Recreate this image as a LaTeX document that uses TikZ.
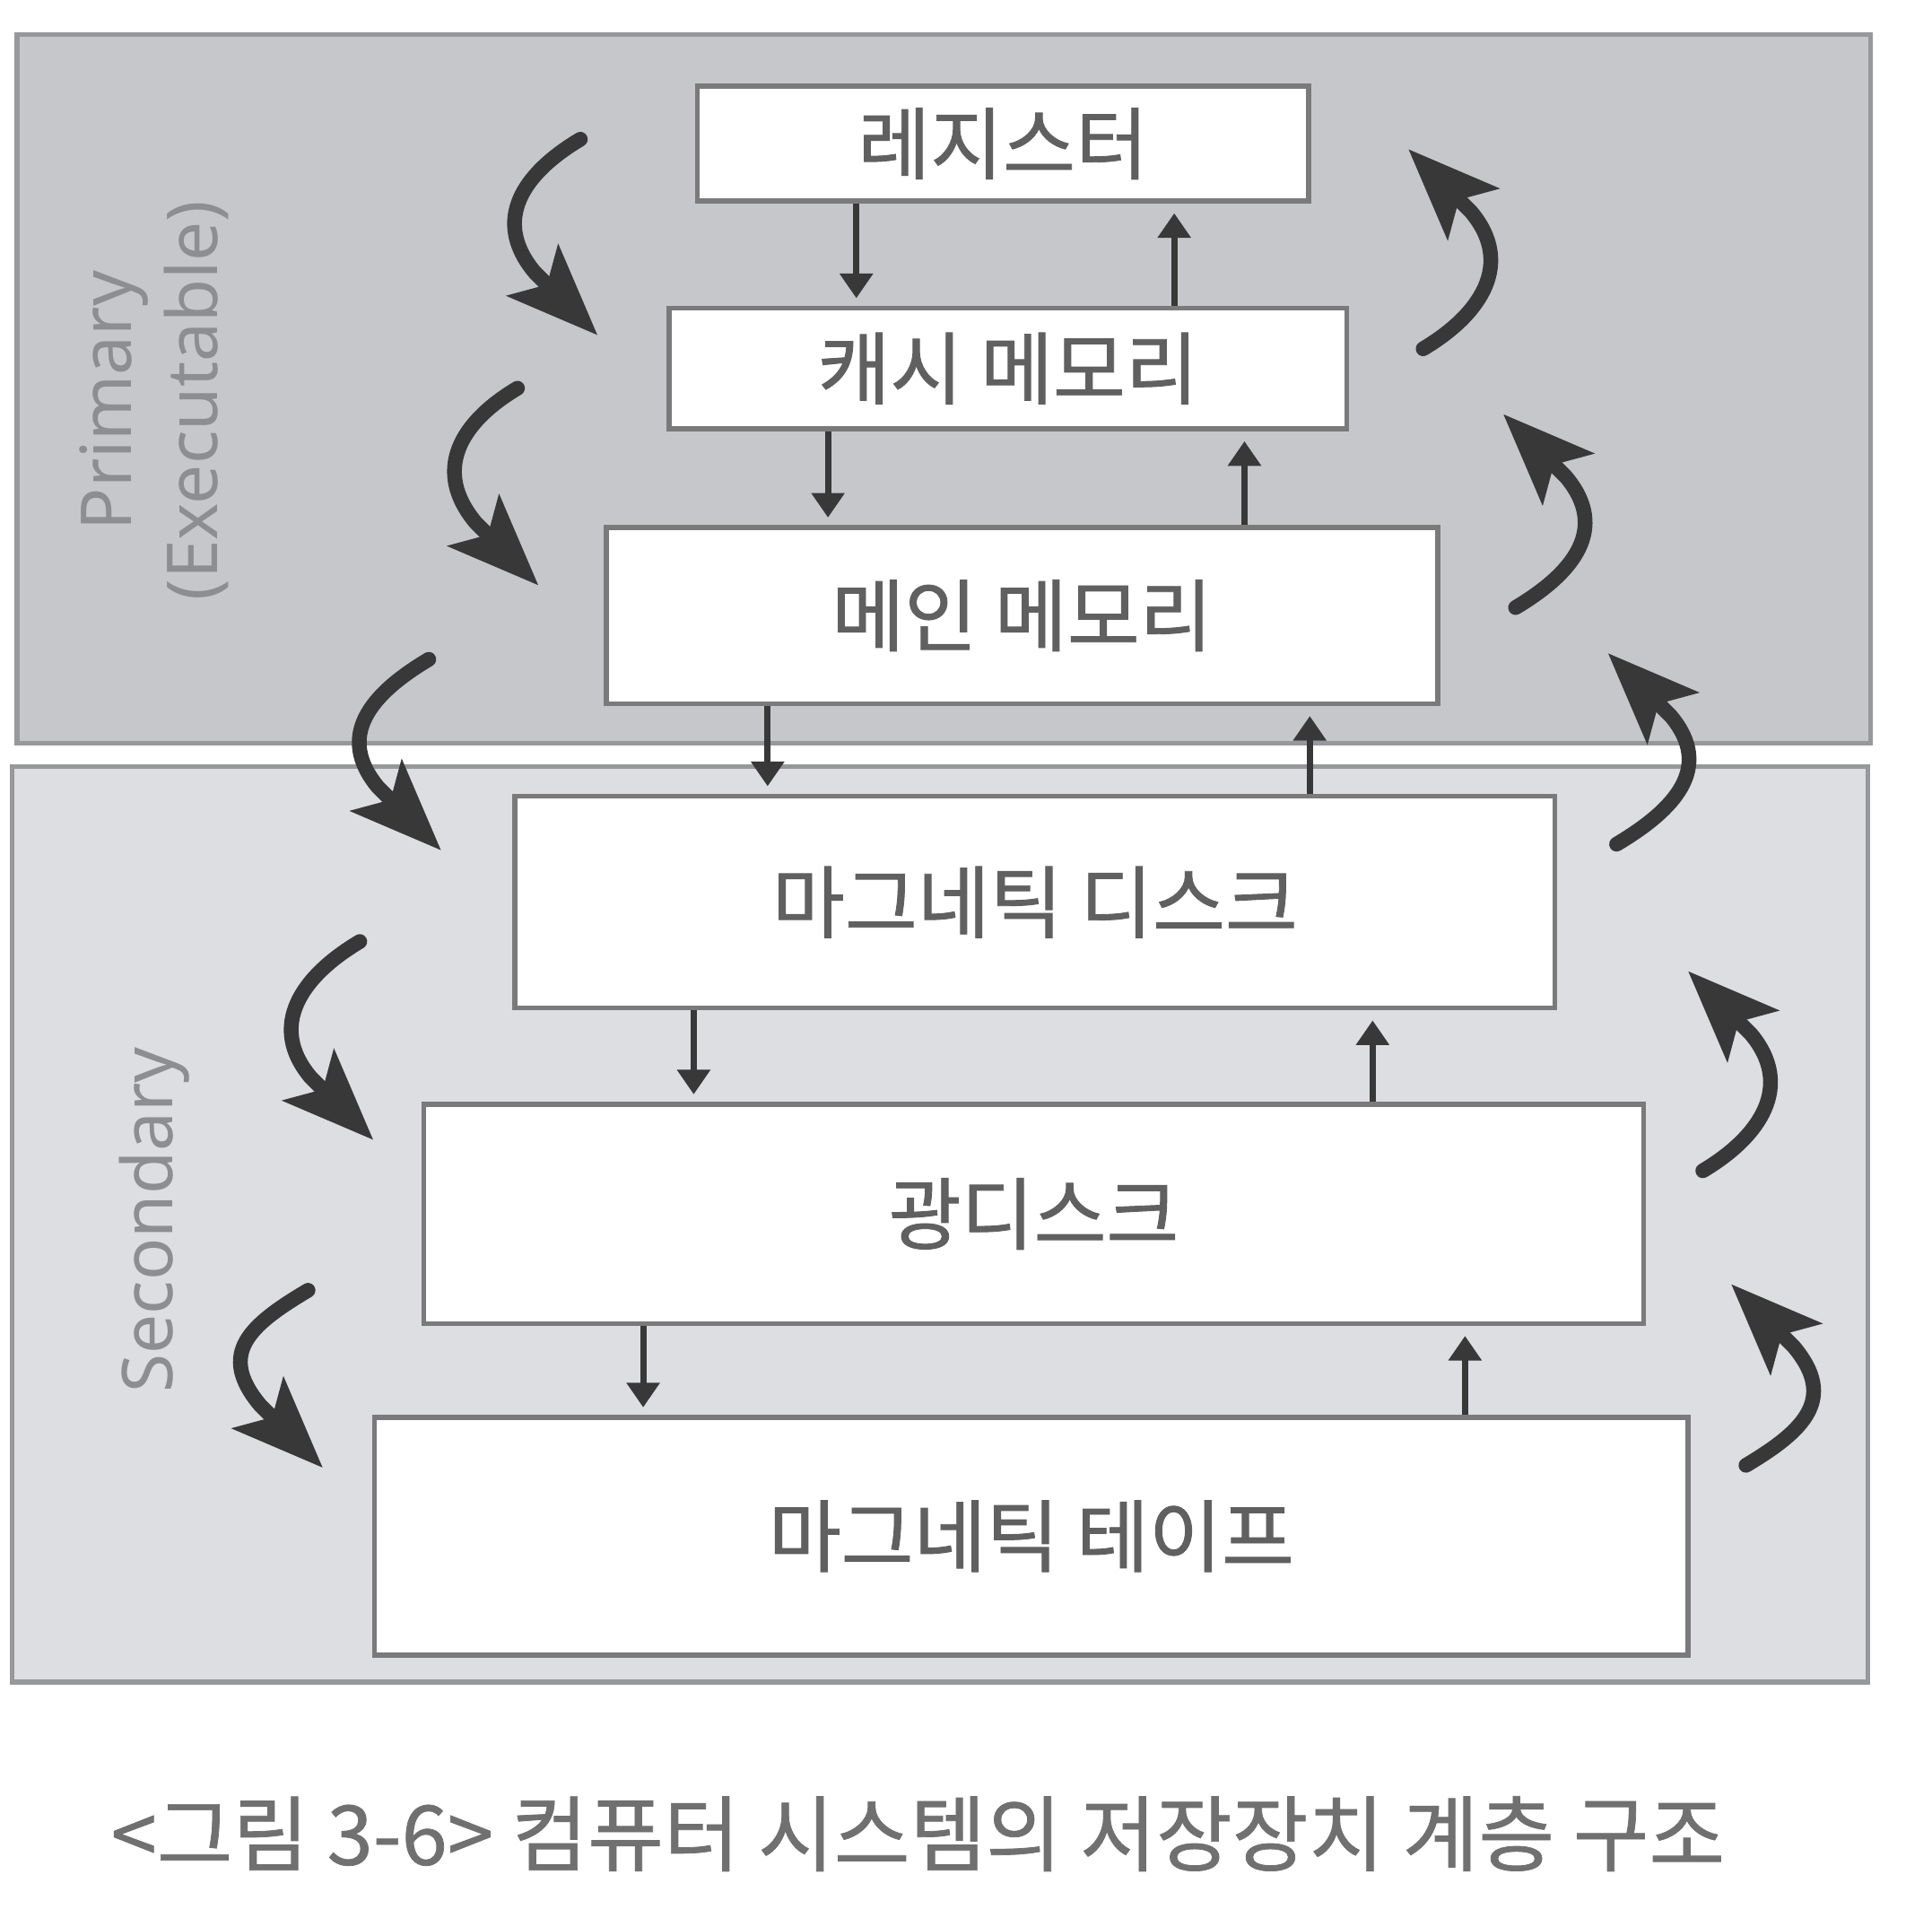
\documentclass[tikz,border=0pt]{standalone}
\usepackage{fontspec}
\newfontfamily\krfont{Noto Sans CJK KR}[FakeBold=1]
\newfontfamily\capfont{Noto Sans CJK KR}[FakeBold=0.8]
\newfontfamily\latfont{Noto Sans}
\usetikzlibrary{arrows.meta}
\definecolor{topfill}{HTML}{C6C7CA}
\definecolor{botfill}{HTML}{DDDEE1}
\definecolor{panelline}{HTML}{97989B}
\definecolor{boxline}{HTML}{7A7A7A}
\definecolor{boxtxt}{HTML}{606060}
\definecolor{arrcol}{HTML}{383838}
\definecolor{sidetxt}{HTML}{8C8E92}
\definecolor{captxt}{HTML}{707070}
\begin{document}
\begin{tikzpicture}[x=1pt,y=-1pt,
  panel/.style={draw=panelline, line width=4pt, inner sep=0pt},
  box/.style={draw=boxline, fill=white, line width=4pt, inner sep=0pt,
    text=boxtxt, font=\krfont\fontsize{64}{66}\selectfont},
  sm/.style={draw=arrcol, line width=5pt, -{Triangle[length=20pt,width=26pt]}},
  curv/.style={draw=arrcol, line width=12pt, line cap=round,
    -{Stealth[length=74pt,width=58pt,inset=16pt]}},
  side/.style={text=sidetxt, inner sep=0pt, font=\latfont\fontsize{57}{70}\selectfont}
]
\useasboundingbox (0,0) rectangle (1568,1556);

% panels
\node[panel, fill=topfill, minimum width=1504pt, minimum height=575pt] (prim) at (766,315.5) {};
\node[panel, fill=botfill, minimum width=1506pt, minimum height=743pt] (sec) at (763,993.5) {};

% side labels
\node[side, rotate=90, align=center] (plab) at (125,325) {Primary\\(Executable)};
\node[side, rotate=90] (slab) at (125,990) {Secondary};

% curved arrows, left (downward)
\coordinate (l1a) at (471,113);  \coordinate (l1b) at (485,272);
\coordinate (l2a) at (420,315);  \coordinate (l2b) at (437,475);
\coordinate (l3a) at (348,535);  \coordinate (l3b) at (358,690);
\coordinate (l4a) at (292,764);  \coordinate (l4b) at (303,925);
\coordinate (l5a) at (250,1047); \coordinate (l5b) at (262,1191);
\draw[curv] (l1a) .. controls (424,141) and (399,179) .. (434,221) -- (l1b);
\draw[curv] (l2a) .. controls (373,343) and (351,382) .. (386,424) -- (l2b);
\draw[curv] (l3a) .. controls (301,563) and (272,597) .. (307,639) -- (l3b);
\draw[curv] (l4a) .. controls (245,792) and (217,832) .. (252,874) -- (l4b);
\draw[curv] (l5a) .. controls (203,1075) and (176,1098) .. (211,1140) -- (l5b);

% curved arrows, right (upward)
\coordinate (r1a) at (1155,283);  \coordinate (r1b) at (1143,121);
\coordinate (r2a) at (1230,493);  \coordinate (r2b) at (1220,336);
\coordinate (r3a) at (1312,685);  \coordinate (r3b) at (1305,530);
\coordinate (r4a) at (1382,950);  \coordinate (r4b) at (1370,788);
\coordinate (r5a) at (1417,1189); \coordinate (r5b) at (1405,1042);
\draw[curv] (r1a) .. controls (1202,255) and (1229,214) .. (1194,172) -- (r1b);
\draw[curv] (r2a) .. controls (1277,465) and (1306,429) .. (1271,387) -- (r2b);
\draw[curv] (r3a) .. controls (1359,657) and (1391,623) .. (1356,581) -- (r3b);
\draw[curv] (r4a) .. controls (1429,922) and (1456,881) .. (1421,839) -- (r4b);
\draw[curv] (r5a) .. controls (1464,1161) and (1491,1135) .. (1456,1093) -- (r5b);

% boxes
\node[box, minimum width=496pt,  minimum height=93pt]  (reg)   at (814,116.5) {레지스터};
\node[box, minimum width=550pt,  minimum height=98pt]  (cache) at (818,299)   {캐시 메모리};
\node[box, minimum width=675pt,  minimum height=143pt] (main)  at (829.5,499.5) {메인 메모리};
\node[box, minimum width=844pt,  minimum height=172pt] (disk)  at (840,732)   {마그네틱 디스크};
\node[box, minimum width=990pt,  minimum height=178pt] (opt)   at (839,985)   {광디스크};
\node[box, minimum width=1066pt, minimum height=193pt] (tape)  at (837,1246.5) {마그네틱 테이프};

% small arrows
\coordinate (d1) at (695,0);  \coordinate (u1) at (953,0);
\coordinate (d2) at (672,0);  \coordinate (u2) at (1010,0);
\coordinate (d3) at (623,0);  \coordinate (u3) at (1063,0);
\coordinate (d4) at (563,0);  \coordinate (u4) at (1114,0);
\coordinate (d5) at (522,0);  \coordinate (u5) at (1189,0);
\draw[sm, shorten >=6pt] (d1 |- reg.south)   -- (d1 |- cache.north);
\draw[sm, shorten >=8pt] (u1 |- cache.north) -- (u1 |- reg.south);
\draw[sm, shorten >=6pt] (d2 |- cache.south) -- (d2 |- main.north);
\draw[sm, shorten >=8pt] (u2 |- main.north)  -- (u2 |- cache.south);
\draw[sm, shorten >=6pt] (d3 |- main.south)  -- (d3 |- disk.north);
\draw[sm, shorten >=8pt] (u3 |- disk.north)  -- (u3 |- main.south);
\draw[sm, shorten >=6pt] (d4 |- disk.south)  -- (d4 |- opt.north);
\draw[sm, shorten >=8pt] (u4 |- opt.north)   -- (u4 |- disk.south);
\draw[sm, shorten >=6pt] (d5 |- opt.south)   -- (d5 |- tape.north);
\draw[sm, shorten >=8pt] (u5 |- tape.north)  -- (u5 |- opt.south);

% caption
\node[text=captxt, inner sep=0pt, font=\capfont\fontsize{67}{70}\selectfont] (cap) at (745,1488)
  {<그림 3-6> 컴퓨터 시스템의 저장장치 계층 구조};
\end{tikzpicture}
\end{document}
